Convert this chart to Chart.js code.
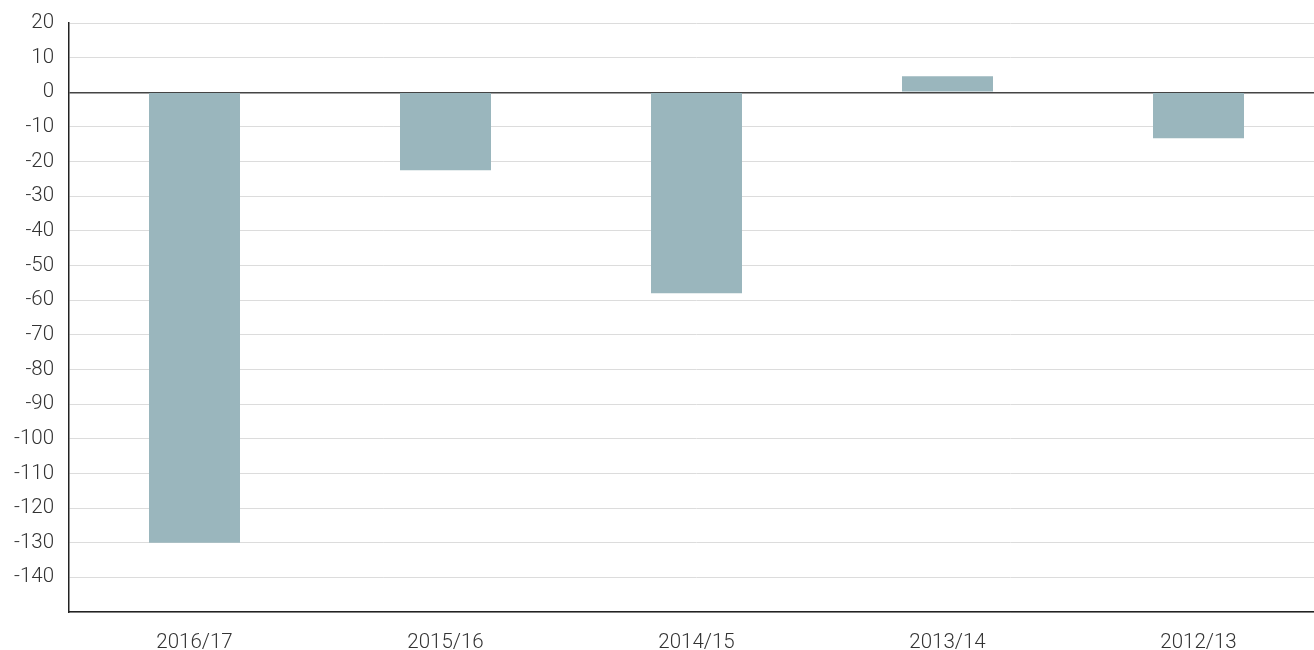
<!DOCTYPE html>
<html>
<head>
<meta charset="utf-8">
<script src="https://cdn.jsdelivr.net/npm/chart.js@4"></script>
<style>
  html, body { margin: 0; padding: 0; background: #fff; overflow: hidden; }
  #wrap { width: 1324px; height: 650px; }
</style>
</head>
<body>
<div id="wrap"><canvas id="chart"></canvas></div>
<script>
const categories = ['2016/17', '2015/16', '2014/15', '2013/14', '2012/13'];
const values = [-130, -22.5, -58, 4.6, -13.3];

const tickFont = { family: 'Roboto', size: 20.5, weight: '300' };

const ctx = document.getElementById('chart');
const chart = new Chart(ctx, {
  type: 'bar',
  data: {
    labels: categories,
    datasets: [
      {
        data: values,
        backgroundColor: '#9ab6bd',
        barPercentage: 0.725,
        categoryPercentage: 0.5
      }
    ]
  },
  options: {
    responsive: true,
    maintainAspectRatio: false,
    animation: false,
    layout: { padding: { top: 23, right: 0, bottom: 0, left: 0 } },
    plugins: {
      legend: { display: false },
      tooltip: { enabled: false }
    },
    scales: {
      x: {
        grid: { display: false, drawTicks: false },
        border: { color: '#222', width: 1.5 },
        ticks: { color: '#333', padding: 19, font: tickFont },
        afterFit: (scale) => { scale.height = 38; }
      },
      y: {
        min: -150,
        max: 20,
        grid: {
          drawTicks: false,
          color: (c) => c.tick && c.tick.value === 0 ? '#444' : '#dcdcdc',
          lineWidth: (c) => c.tick && c.tick.value === 0 ? 1.5 : 1
        },
        border: { color: '#222', width: 1.5 },
        ticks: {
          stepSize: 10,
          color: '#333',
          padding: 15,
          font: tickFont,
          callback: (v) => v === -150 ? '' : v
        },
        afterFit: (scale) => {
          scale.width = 69;
          scale.paddingTop = 0;
          scale.paddingBottom = 0;
        }
      }
    }
  }
});
</script>
</body>
</html>
